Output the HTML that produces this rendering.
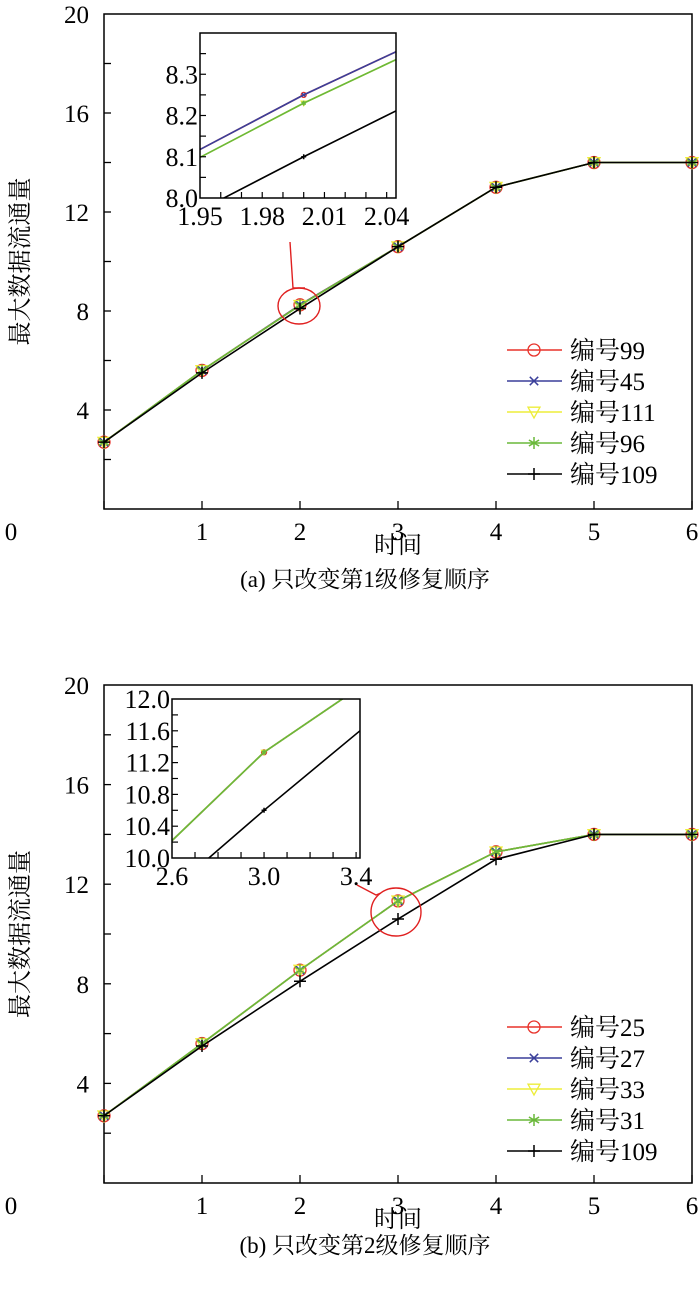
<!DOCTYPE html>
<html><head><meta charset="utf-8">
<style>
html,body{margin:0;padding:0;background:#fff;overflow:hidden;width:700px;height:1295px;}
svg{display:block;font-family:"Liberation Serif","Noto Serif CJK SC",serif;}
</style></head>
<body>
<svg id="fig" width="700" height="1295" viewBox="0 0 700 1295" xmlns="http://www.w3.org/2000/svg"></svg>
<script>
// ---- data ----
const xCats = [0, 1, 2, 3, 4, 5, 6];
const xTickLabels = ["0", "1", "2", "3", "4", "5", "6"];
const yTickLabels = ["4", "8", "12", "16", "20"];
const yTickValues = [4, 8, 12, 16, 20];

// Chart (a)
const aNames = ["编号99", "编号45", "编号111", "编号96", "编号109"];
const a99  = [2.7, 5.6, 8.25, 10.6, 13.0, 14.0, 14.0];
const a45  = [2.7, 5.6, 8.25, 10.6, 13.0, 14.0, 14.0];
const a111 = [2.7, 5.6, 8.23, 10.6, 13.0, 14.0, 14.0];
const a96  = [2.7, 5.6, 8.23, 10.6, 13.0, 14.0, 14.0];
const a109 = [2.7, 5.5, 8.1, 10.6, 13.0, 14.0, 14.0];
const aInsetXTicks = [1.95, 1.98, 2.01, 2.04];
const aInsetYTicks = [8.0, 8.1, 8.2, 8.3];

// Chart (b)
const bNames = ["编号25", "编号27", "编号33", "编号31", "编号109"];
const b25  = [2.7, 5.6, 8.55, 11.33, 13.3, 14.0, 14.0];
const b27  = [2.7, 5.6, 8.55, 11.33, 13.3, 14.0, 14.0];
const b33  = [2.7, 5.6, 8.55, 11.33, 13.3, 14.0, 14.0];
const b31  = [2.7, 5.6, 8.55, 11.33, 13.3, 14.0, 14.0];
const b109 = [2.7, 5.5, 8.1, 10.6, 13.0, 14.0, 14.0];
const bInsetXTicks = [2.6, 3.0, 3.4];
const bInsetYTicks = [10.0, 10.4, 10.8, 11.2, 11.6, 12.0];

const colors = ["#e8322a", "#3a3f9a", "#eded3a", "#6ab83a", "#000000"];
const markers = ["circle", "x", "tri", "star", "plus"];

const NS = "http://www.w3.org/2000/svg";
const fig = document.getElementById("fig");
function el(tag, attrs, parent) {
  const e = document.createElementNS(NS, tag);
  for (const k in attrs) e.setAttribute(k, attrs[k]);
  (parent || fig).appendChild(e);
  return e;
}
function txt(s, x, y, size, anchor, parent) {
  const t = el("text", {x: x, y: y, "font-size": size, "text-anchor": anchor || "middle", fill: "#000"}, parent);
  t.textContent = s;
  return t;
}
function marker(g, type, x, y, c, s) {
  if (type === "circle") el("circle", {cx: x, cy: y, r: s, fill: "none", stroke: c, "stroke-width": 1.3}, g);
  else if (type === "x") el("path", {d: `M${x-s*0.7},${y-s*0.7}L${x+s*0.7},${y+s*0.7}M${x-s*0.7},${y+s*0.7}L${x+s*0.7},${y-s*0.7}`, stroke: c, "stroke-width": 1.5}, g);
  else if (type === "tri") el("path", {d: `M${x-s},${y-s*0.8}L${x+s},${y-s*0.8}L${x},${y+s}Z`, fill: "none", stroke: c, "stroke-width": 1.3}, g);
  else if (type === "star") el("path", {d: `M${x},${y-s}L${x},${y+s}M${x-s*0.85},${y-s*0.5}L${x+s*0.85},${y+s*0.5}M${x-s*0.85},${y+s*0.5}L${x+s*0.85},${y-s*0.5}`, stroke: c, "stroke-width": 1.5}, g);
  else el("path", {d: `M${x-s},${y}L${x+s},${y}M${x},${y-s}L${x},${y+s}`, stroke: c, "stroke-width": 1.5}, g);
}

function chart(id, top, bottom, series, names, legendY, captionY, captionText, inset, circ) {
  const L = 104, R = 692;
  const g = el("g", {});
  
  
  const sx = v => L + (v - 0) / 6 * (R - L);
  const sy = v => bottom - v / 20 * (bottom - top);
  const frame = el("rect", {x: L, y: top, width: R - L, height: bottom - top, fill: "none", stroke: "#000", "stroke-width": 1.5}, g);
  
  
  xCats.forEach((v, i) => {
    el("line", {x1: sx(v), x2: sx(v), y1: bottom, y2: bottom - 8, stroke: "#000", "stroke-width": 1.3}, g);
    const t = txt(xTickLabels[i], i === 0 ? 11 : sx(v), bottom + 31, 25, "middle", g);
    
    
  });
  for (let v = 2; v < 20; v += 2) el("line", {x1: L, x2: L + 7, y1: sy(v), y2: sy(v), stroke: "#000", "stroke-width": 1.3}, g);
  yTickValues.forEach((v, i) => {
    const t = txt(yTickLabels[i], 89, sy(v) + 9, 25, "end", g);
    
    
  });
  const xt = txt("时间", 398, bottom + 44, 24, "middle", g);
  
  
  const ytt = txt("最大数据流通量", 0, 0, 24, "middle", g);
  ytt.setAttribute("transform", `translate(28,${(top + bottom) / 2}) rotate(-90)`);
  
  
  const cap = txt(captionText, 365, captionY, 23, "middle", g);
  
  
  series.forEach((s, k) => {
    const pts = s.map((v, i) => `${sx(xCats[i])},${sy(v)}`).join(" ");
    const sg = el("g", {}, g);
    
    
    el("polyline", {points: pts, fill: "none", stroke: colors[k], "stroke-width": 1.6}, sg);
    s.forEach((v, i) => marker(sg, markers[k], sx(xCats[i]), sy(v), colors[k], 6));
  });
  names.forEach((n, k) => {
    const ly = legendY + k * 31;
    const lg = el("g", {}, g);
    
    
    el("line", {x1: 507, x2: 562, y1: ly, y2: ly, stroke: colors[k], "stroke-width": 1.6}, lg);
    marker(lg, markers[k], 534, ly, colors[k], 6);
    txt(n, 570, ly + 9, 25, "start", lg);
  });
  const ig = el("g", {}, g);
  
  
  const ix = v => inset.L + (v - inset.x0) / (inset.x1 - inset.x0) * (inset.R - inset.L);
  const iy = v => inset.B - (v - inset.y0) / (inset.y1 - inset.y0) * (inset.B - inset.T);
  el("rect", {x: inset.L, y: inset.T, width: inset.R - inset.L, height: inset.B - inset.T, fill: "#fff"}, ig);
  const cp = el("clipPath", {id: id + "-clip"}, ig);
  el("rect", {x: inset.L, y: inset.T, width: inset.R - inset.L, height: inset.B - inset.T}, cp);
  const cg = el("g", {"clip-path": `url(#${id}-clip)`}, ig);
  series.forEach((s, k) => {
    const pts = s.map((v, i) => `${ix(xCats[i])},${iy(v)}`).join(" ");
    el("polyline", {points: pts, fill: "none", stroke: colors[k], "stroke-width": 1.6}, cg);
    s.forEach((v, i) => marker(cg, markers[k], ix(xCats[i]), iy(v), colors[k], 2.5));
  });
  el("rect", {x: inset.L, y: inset.T, width: inset.R - inset.L, height: inset.B - inset.T, fill: "none", stroke: "#000", "stroke-width": 1.5}, ig);
  for (let v = inset.x0 + inset.xm; v < inset.x1 - 1e-6; v += inset.xm)
    el("line", {x1: ix(v), x2: ix(v), y1: inset.B, y2: inset.B - 6, stroke: "#000", "stroke-width": 1.2}, ig);
  for (let v = inset.y0 + inset.ym; v < inset.y1 - 1e-6; v += inset.ym)
    el("line", {x1: inset.L, x2: inset.L + 6, y1: iy(v), y2: iy(v), stroke: "#000", "stroke-width": 1.2}, ig);
  inset.xt.forEach(v => txt(v.toFixed(inset.xd), ix(v), inset.B + 27, 26, "middle", ig));
  inset.yt.forEach(v => txt(v.toFixed(1), inset.L - 2, iy(v) + 9, 26, "end", ig));
  const ag = el("g", {}, g);
  
  
  el("ellipse", {cx: circ.cx, cy: circ.cy, rx: circ.rx, ry: circ.ry, fill: "none", stroke: "#e02020", "stroke-width": 1.4}, ag);
  el("polyline", {points: circ.ptr, fill: "none", stroke: "#e02020", "stroke-width": 1.4}, ag);
}

chart("chart-a", 14, 509, [a99, a45, a111, a96, a109], aNames, 350, 587, "(a) 只改变第1级修复顺序",
  {L: 200, R: 396, T: 33, B: 198, x0: 1.95, x1: 2.0445, y0: 8.0, y1: 8.4, xm: 0.01, ym: 0.05, xt: aInsetXTicks, yt: aInsetYTicks, xd: 2},
  {cx: 299, cy: 306, rx: 21, ry: 18, ptr: "290,242 293,288 305,288"});
chart("chart-b", 685, 1183, [b25, b27, b33, b31, b109], bNames, 1027, 1253, "(b) 只改变第2级修复顺序",
  {L: 172, R: 360, T: 699, B: 858, x0: 2.6, x1: 3.417, y0: 10.0, y1: 12.0, xm: 0.1, ym: 0.2, xt: bInsetXTicks, yt: bInsetYTicks, xd: 1},
  {cx: 396, cy: 912, rx: 25, ry: 24, ptr: "357,885 376,895 381,893"});
</script>
</body></html>
